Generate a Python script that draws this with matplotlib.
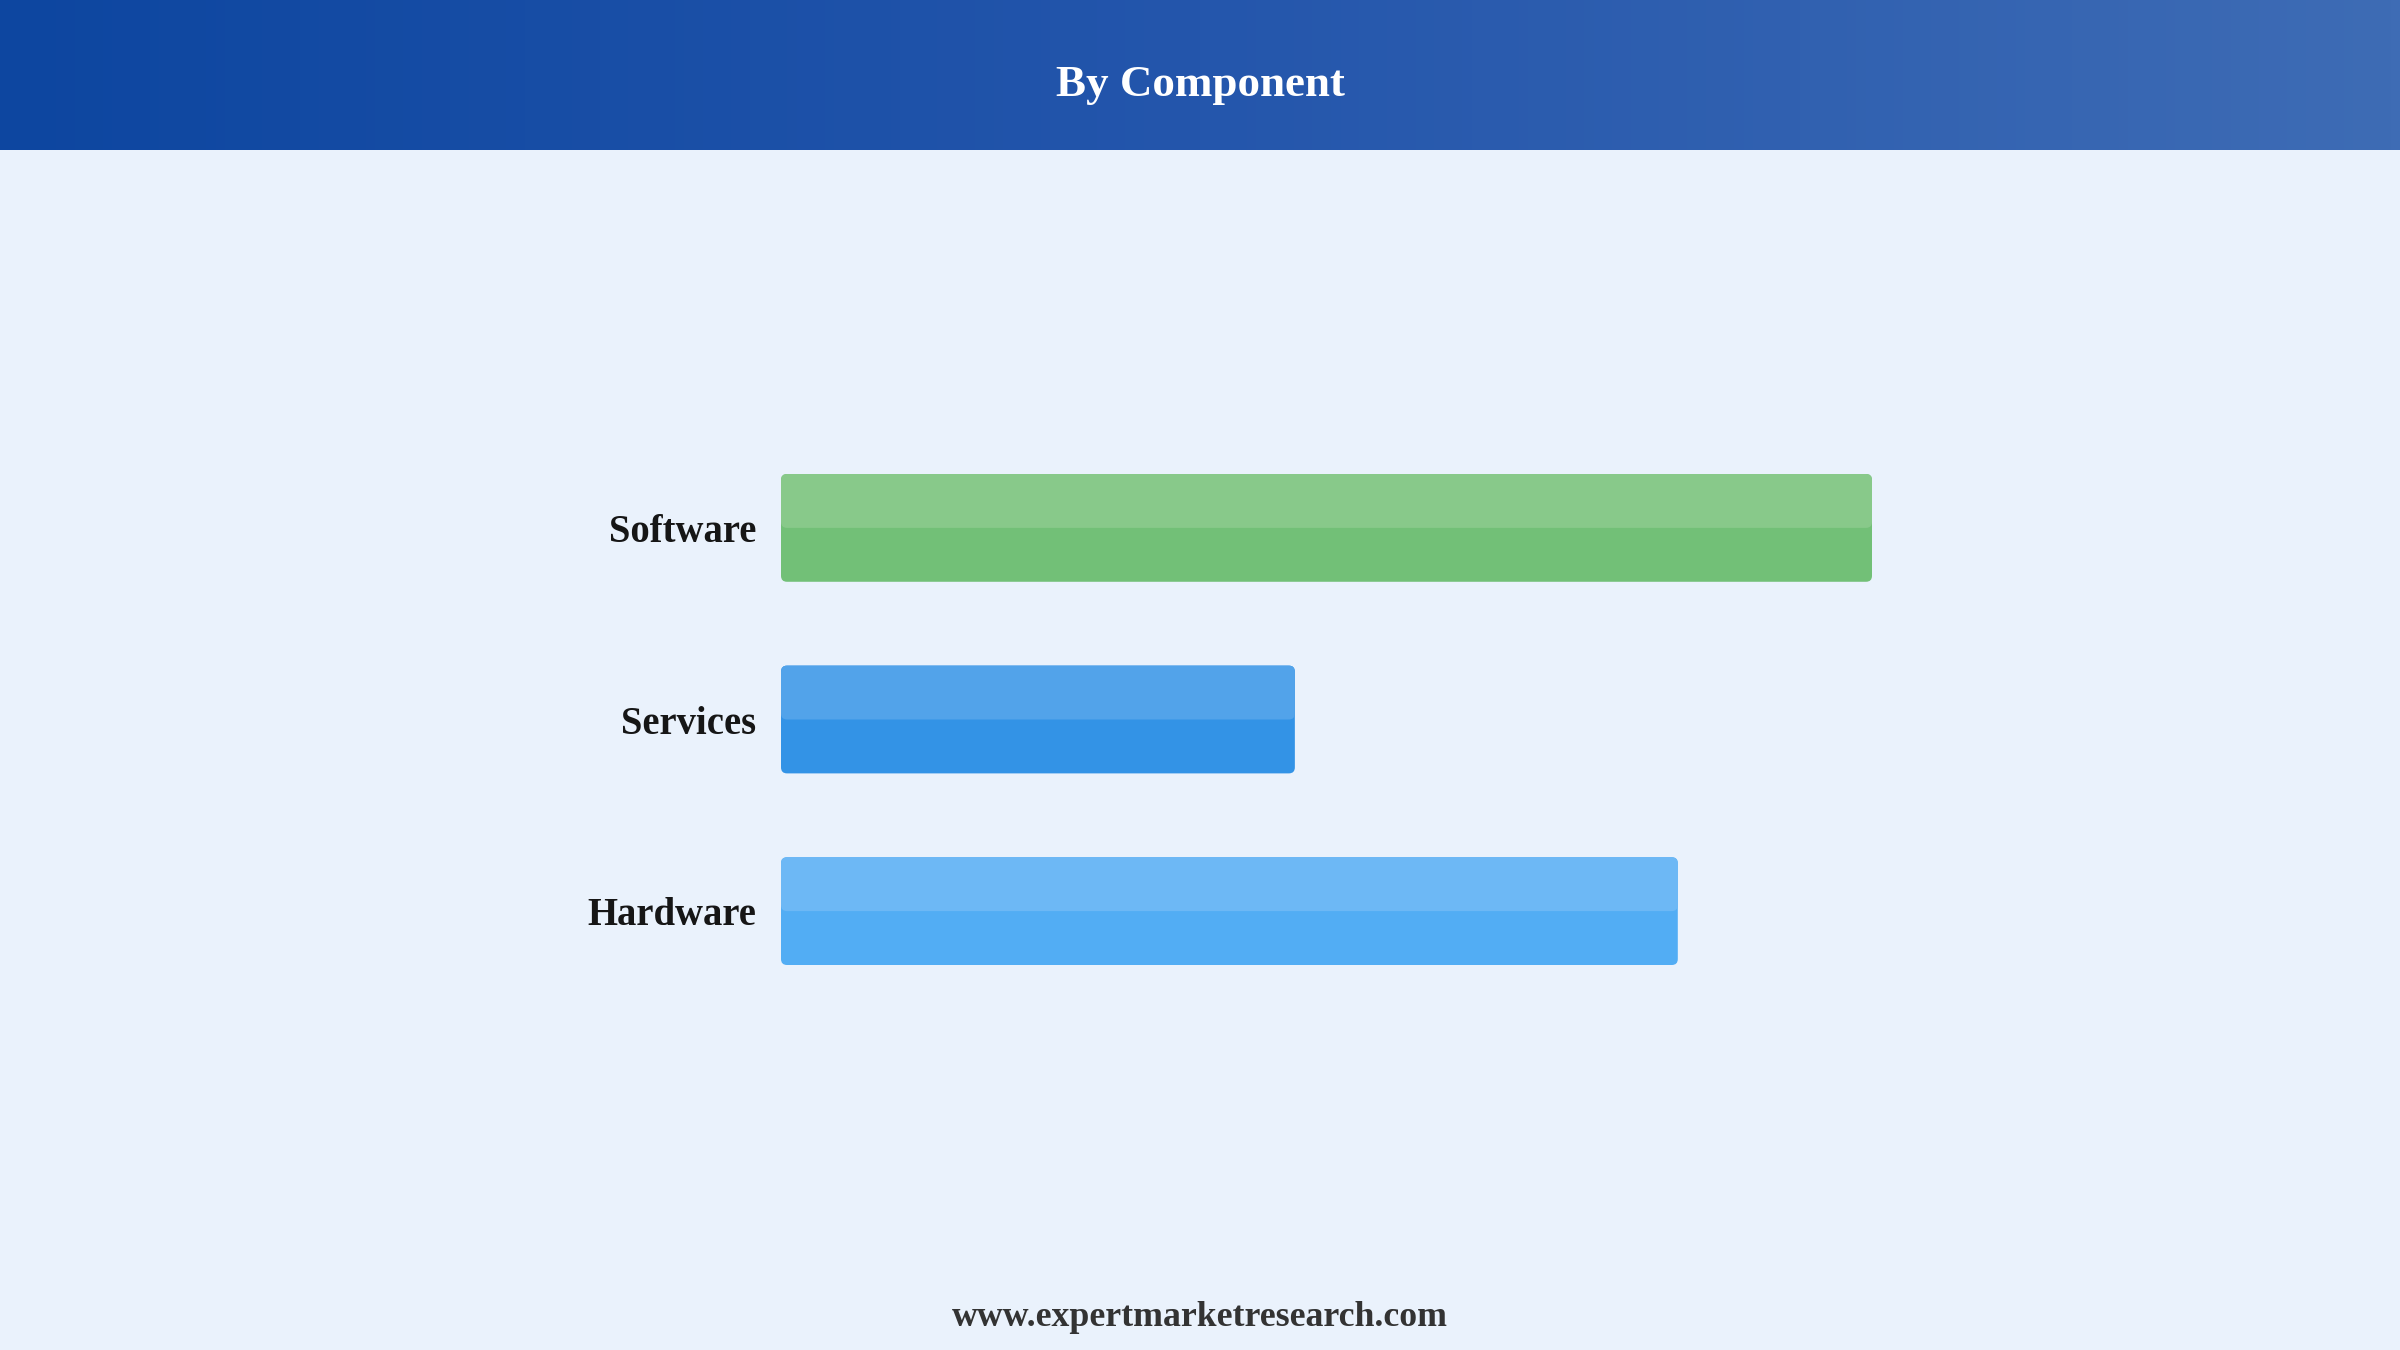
import numpy as np
import matplotlib.pyplot as plt
from matplotlib.patches import FancyBboxPatch
from matplotlib.colors import LinearSegmentedColormap

categories = ["Hardware", "Services", "Software"]
values = [82.2, 47.1, 100.0]
top_colors = ["#6DB8F5", "#52A3EA", "#88C98A"]
bottom_colors = ["#52ADF4", "#3393E6", "#72C077"]

title = "By Component"
footer = "www.expertmarketresearch.com"

BG = "#EAF2FC"
W, H = 2400, 1350
DPI = 200

plt.rcParams["font.family"] = ["Liberation Serif", "DejaVu Serif"]

fig = plt.figure(figsize=(W / DPI, H / DPI), dpi=DPI, facecolor=BG)

# header band with horizontal gradient
head = fig.add_axes([0, 1 - 150 / H, 1, 150 / H])
cmap = LinearSegmentedColormap.from_list("hdr", ["#0D46A0", "#2456AC", "#3E6CB5"])
head.imshow(np.linspace(0, 1, 256)[None, :], aspect="auto", cmap=cmap,
            extent=[0, 1, 0, 1])
head.set_axis_off()
head.text(0.5, 1 - 85 / 150, title, color="white", fontsize=16.2,
          fontweight="bold", ha="center", va="center", transform=head.transAxes)

# bar area
left = 781 / W
width = 1091 / W
bottom = 1 - 965 / H
height = (965 - 474) / H
ax = fig.add_axes([left, bottom, width, height])
ax.set_facecolor(BG)

bar_h = 108 / 192
x_per_px = 100 / 1091
y_per_px = 1 / 192
aspect = y_per_px / x_per_px
r = 6 * x_per_px

for i, (v, ct, cb) in enumerate(zip(values, top_colors, bottom_colors)):
    y0 = i - bar_h / 2
    full = FancyBboxPatch((0, y0), v, bar_h,
                          boxstyle=f"round,pad=0,rounding_size={r}",
                          mutation_aspect=aspect, fc=cb, ec="none")
    ax.add_patch(full)
    top = FancyBboxPatch((0, i), v, bar_h / 2,
                         boxstyle=f"round,pad=0,rounding_size={r}",
                         mutation_aspect=aspect, fc=ct, ec="none")
    ax.add_patch(top)

ax.set_xlim(0, 100)
ax.set_ylim(-bar_h / 2, 2 + bar_h / 2)
ax.set_yticks(range(len(categories)))
ax.set_yticklabels(categories, fontsize=13.9, fontweight="bold", color="#161616")
ax.tick_params(axis="y", length=0, pad=9)
ax.set_xticks([])
for s in ax.spines.values():
    s.set_visible(False)

fig.text(0.5, 1 - 1317 / H, footer, ha="center", va="center", fontsize=12.9,
         fontweight="bold", color="#333333")

fig.savefig("out.png", dpi=DPI, facecolor=BG)
